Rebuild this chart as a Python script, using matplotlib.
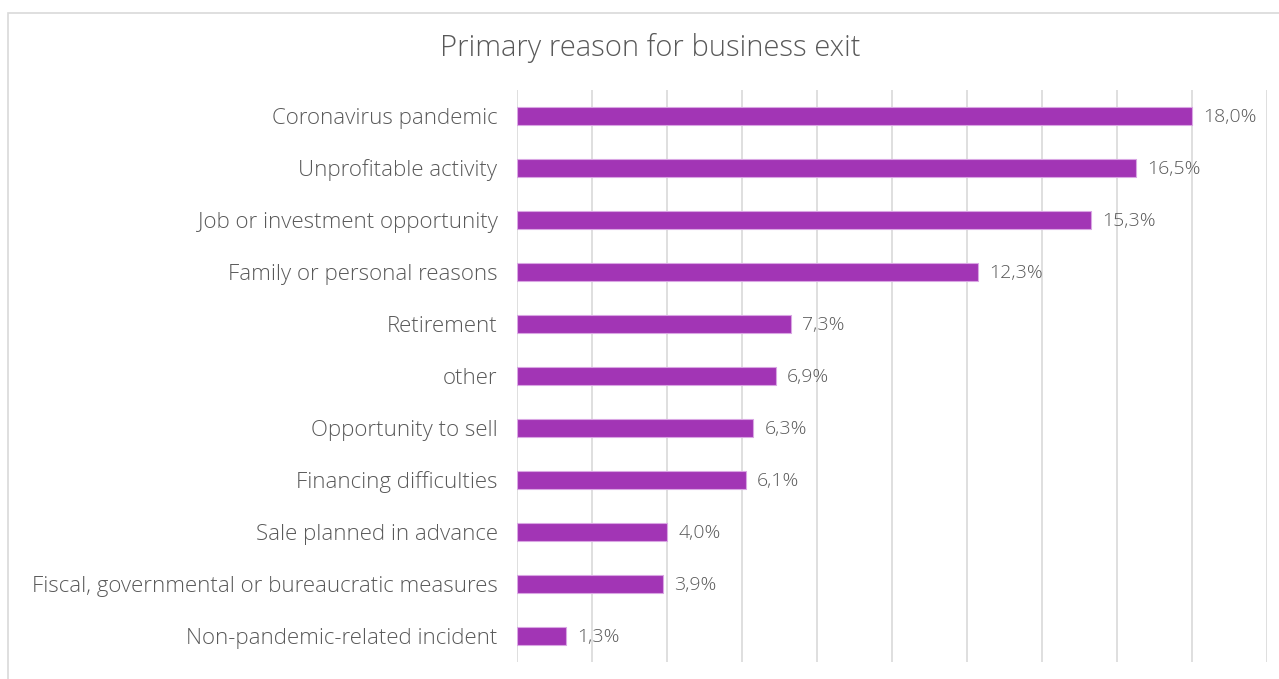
import matplotlib
matplotlib.use("Agg")
import matplotlib.pyplot as plt
from matplotlib.patches import Rectangle

plt.rcParams['font.family'] = ['Open Sans', 'DejaVu Sans']

categories = [
    "Coronavirus pandemic",
    "Unprofitable activity",
    "Job or investment opportunity",
    "Family or personal reasons",
    "Retirement",
    "other",
    "Opportunity to sell",
    "Financing difficulties",
    "Sale planned in advance",
    "Fiscal, governmental or bureaucratic measures",
    "Non-pandemic-related incident",
]
values = [18.0, 16.5, 15.3, 12.3, 7.3, 6.9, 6.3, 6.1, 4.0, 3.9, 1.3]
title = "Primary reason for business exit"

text_color = "#595959"
bar_color = "#A235B5"
grid_color = "#D9D9D9"

fig = plt.figure(figsize=(12.79, 6.79), dpi=100)
fig.patches.append(Rectangle((8 / 1279, -0.01), 1.0, 1 - 13 / 679 + 0.01,
                             transform=fig.transFigure, fill=False,
                             edgecolor="#D9D9D9", linewidth=1.2))

ax = fig.add_axes([517 / 1279, 1 - 662 / 679, (1267 - 517) / 1279, (662 - 90) / 679])
y = list(range(len(categories)))
ax.barh(y, values, height=0.33, color=bar_color, edgecolor="#D9A6E3",
        linewidth=0.8, zorder=3)
ax.set_xlim(0, 20)
ax.set_ylim(len(categories) - 0.5, -0.5)
ax.set_xticks(range(0, 21, 2))
ax.set_xticklabels([])
ax.tick_params(axis='x', length=0)
ax.tick_params(axis='y', length=0, pad=14)
ax.grid(axis='x', color=grid_color, linewidth=1.2, zorder=0)
for s in ax.spines.values():
    s.set_visible(False)
ax.set_yticks(y)
ax.set_yticklabels(categories, fontsize=16, color=text_color, fontweight='light')

for yi, v in zip(y, values):
    ax.annotate(f"{v:.1f}%".replace(".", ","), xy=(v, yi), xytext=(8, -1),
                textcoords="offset points", va="center", ha="left",
                fontsize=14, color=text_color, fontweight='light')

fig.text(650 / 1279, 1 - 48 / 679, title, ha="center", va="center",
         fontsize=21, color=text_color, fontweight='light')

fig.savefig("out.png", dpi=100)
